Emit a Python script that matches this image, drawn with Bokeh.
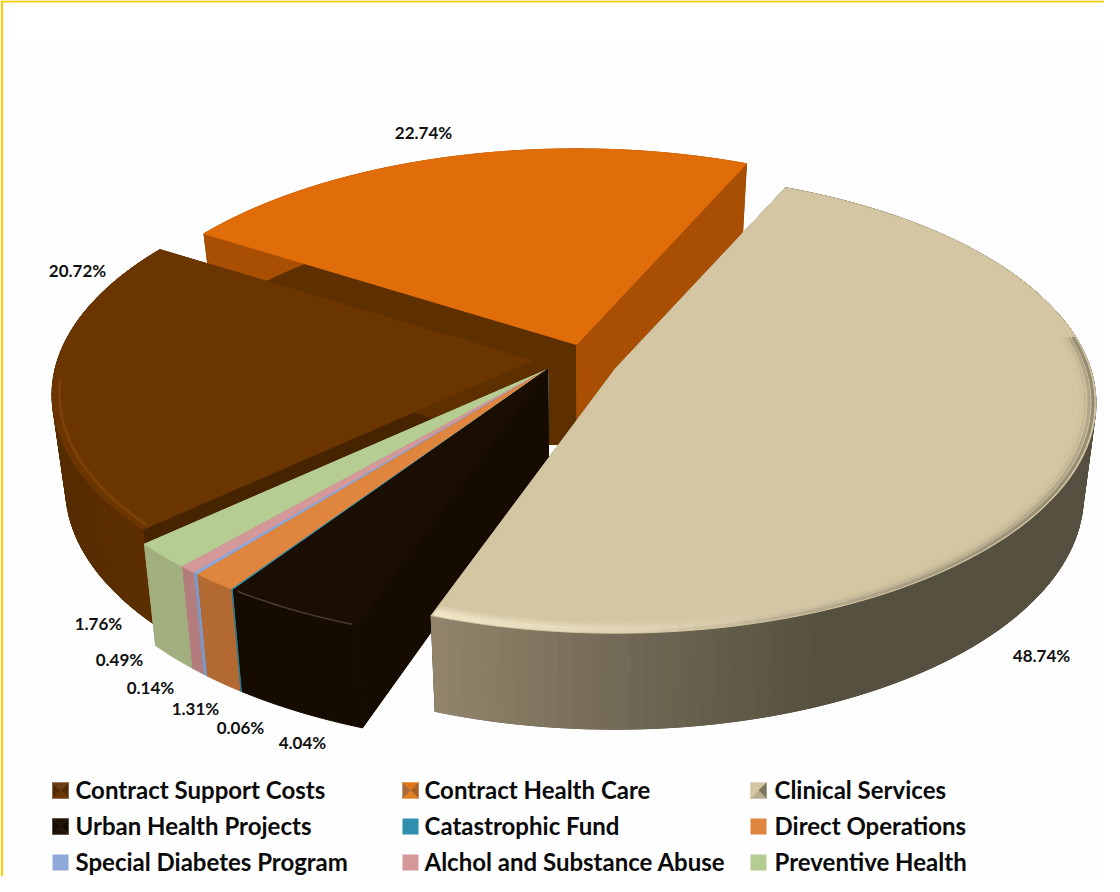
import numpy as np
from bokeh.plotting import figure
from bokeh.models import Range1d, ColumnDataSource
from bokeh.core.properties import value
from bokeh.embed import file_html
from bokeh.resources import INLINE

# ---- data (clockwise from the top edge of Clinical Services) ----
names = ["Clinical Services", "Urban Health Projects", "Catastrophic Fund", "Direct Operations",
         "Special Diabetes Program", "Alchol and Substance Abuse", "Preventive Health",
         "Contract Support Costs", "Contract Health Care"]
shares = [48.74, 4.04, 0.06, 1.31, 0.14, 0.49, 1.76, 20.72, 22.74]
legend_order = ["Contract Support Costs", "Contract Health Care", "Clinical Services",
                "Urban Health Projects", "Catastrophic Fund", "Direct Operations",
                "Special Diabetes Program", "Alchol and Substance Abuse", "Preventive Health"]
label_texts = ["48.74%", "4.04%", "0.06%", "1.31%", "0.14%", "0.49%", "1.76%", "20.72%", "22.74%"]

# ---- styles / layout ----
top_col = dict(zip(names, ["#D4C6A3", "#1A0E02", "#2F8FAC", "#DF853D", "#8EA8D8", "#D49898", "#B5CC92", "#6B3500", "#E06C0A"]))
wall_col = dict(zip(names, ["#6C6450", "#160B00", "#2A7890", "#B26932", "#7F98C8", "#B47D7D", "#A0AF7D", "#5E3000", "#A84F04"]))
group = names[1:7]
apex = {"Clinical Services": (623, 376), "Contract Support Costs": (540, 368), "Contract Health Care": (584, 352)}
apex.update({n: (555, 377) for n in group})
scale = {n: (1.03 if n in group else 1.0) for n in names}
depth = {n: (1.07 if n in group else 1.0) for n in names}
label_xy = dict(zip(names, [(1049, 663), (310, 750), (248, 735), (203, 716), (158, 695), (127, 667), (106, 631), (85, 278), (431, 140)]))
START = 66.0
A, B, PERSP = 475.0, 225.0, 0.15
FONT = "Lato"


def proj(ax, ay, deg, r=1.0):
    t = np.radians(deg)
    X, Y = r * np.cos(t), r * np.sin(t)
    s = 1.0 / (1.0 + PERSP * Y)
    return ax + A * X * s, ay - B * Y * s


def drop(x, y, k=1.0):
    h = np.interp(y, [170, 350, 640], [68, 92, 96]) * k
    return x + (600 - x) * 0.025, y + h


def hex2rgb(c):
    return np.array([int(c[i:i + 2], 16) for i in (1, 3, 5)], float)


def ramp(x, stops):
    xs = [s[0] for s in stops]
    v = [np.interp(x, xs, [hex2rgb(s[1])[k] for s in stops]) for k in range(3)]
    return "#%02x%02x%02x" % tuple(int(round(q)) for q in v)


wall_ramp = {
    "Clinical Services": [(425, "#94876E"), (540, "#82765F"), (640, "#706855"), (780, "#5C5644"), (830, "#565040"), (1100, "#565040")],
    "Contract Support Costs": [(60, "#562C00"), (110, "#5A2E00"), (160, "#5E3000")],
}

spans = {}
a = START
for n, v in zip(names, shares):
    spans[n] = (a, a - v * 3.6)
    a = a - v * 3.6

XS, YS, FC = [], [], []


def add(xs, ys, col):
    XS.append(list(xs)); YS.append(list(ys)); FC.append(col)


def slice_marks(n):
    a0, a1 = spans[n]
    ax, ay = apex[n]
    k = depth[n]
    th = np.linspace(a0, a1, max(3, int(abs(a0 - a1) / 1.5) + 2))
    rx, ry = proj(ax, ay, th, scale[n])
    c0 = {"Contract Health Care": "#5E3000", "Contract Support Costs": "#472400",
          "Urban Health Projects": "#150B00"}.get(n, wall_col[n])
    c1 = {"Contract Health Care": "#A84F04"}.get(n, wall_col[n])
    ab = drop(ax, ay, k)
    if n == "Contract Health Care":
        # the column under the hub, seen between the exploded slices
        add([ax - 32, ax, ax, ax - 32], [ay + 50, ay + 50, ay + 100, ay + 100], "#5E3000")
    for (rpx, rpy, col) in ((rx[0], ry[0], c0), (rx[-1], ry[-1], c1)):
        b = drop(rpx, rpy, k)
        add([ax, rpx, b[0], ab[0]], [ay, rpy, b[1], ab[1]], col)
    bx, by = drop(rx, ry, k)
    add(np.r_[rx, bx[::-1]], np.r_[ry, by[::-1]], wall_col[n])
    if n in wall_ramp:
        for i in range(len(th) - 1):
            mid = (rx[i] + rx[i + 1]) / 2
            add([rx[i], rx[i + 1], bx[i + 1], bx[i]], [ry[i], ry[i + 1], by[i + 1], by[i]], ramp(mid, wall_ramp[n]))
    add(np.r_[ax, rx], np.r_[ay, ry], top_col[n])


p = figure(width=1104, height=876, x_range=Range1d(8, 1112), y_range=Range1d(884, 8),
           toolbar_location=None, output_backend="svg", x_axis_location=None, y_axis_location=None,
           min_border=0, outline_line_color=None)
p.grid.visible = False
p.background_fill_color = "white"
p.border_fill_color = "white"

# page furniture
p.quad(left=[30], right=[1113], top=[48], bottom=[884], fill_color="#FEFEFE", line_color=None)
p.segment(x0=[8], y0=[9], x1=[1112], y1=[9], line_color="#FFCC00", line_width=2)
p.segment(x0=[9.5], y0=[8], x1=[9.5], y1=[884], line_color="#FFCC00", line_width=2)

draw_order = ["Contract Health Care", "Contract Support Costs", "Preventive Health",
              "Alchol and Substance Abuse", "Special Diabetes Program", "Direct Operations",
              "Catastrophic Fund", "Urban Health Projects", "Clinical Services"]
for n in draw_order:
    slice_marks(n)
p.patches(xs="xs", ys="ys", fill_color="fc", line_color="fc", line_width=1.0,
          source=ColumnDataSource(dict(xs=XS, ys=YS, fc=FC)))

# soft bevel on the rim of Clinical Services, light at the front-left, dark at the right
bevel = [
    (0.970, 3, [(427, "#DCCFAE"), (650, "#D8CAA8"), (850, "#D4C6A3"), (1100, "#D0C29F")]),
    (0.978, 3, [(427, "#E6DABA"), (650, "#DCCFAE"), (850, "#D0C29F"), (1100, "#C6B996")]),
    (0.986, 3, [(427, "#EFE4C5"), (650, "#E2D6B6"), (800, "#CABEA0"), (1000, "#B8AD90"), (1100, "#B0A588")]),
    (0.994, 3, [(427, "#F2E8CB"), (650, "#DDD0B0"), (800, "#B9AE90"), (1000, "#9C937A"), (1100, "#948B72")]),
]
a1c = spans["Clinical Services"][1]
ax, ay = apex["Clinical Services"]
for r, w, stops in bevel:
    th = np.linspace(8, a1c + 0.3, 70)
    x, y = proj(ax, ay, th, r)
    cols = [ramp(0.5 * (x[i] + x[i + 1]), stops) for i in range(len(x) - 1)]
    p.multi_line(xs=[[x[i], x[i + 1]] for i in range(len(x) - 1)],
                 ys=[[y[i], y[i + 1]] for i in range(len(x) - 1)],
                 line_color=cols, line_width=w, line_cap="round")

# soft bevel on the rim of Contract Support Costs
ax, ay = apex["Contract Support Costs"]
x, y = proj(ax, ay, np.linspace(185, 222, 25), 0.985)
p.line(x, y, line_color="#7A4208", line_width=3)

# highlight on the rim of Urban Health Projects
a0, a1 = spans["Urban Health Projects"]
ax, ay = apex["Urban Health Projects"]
x, y = proj(ax, ay, np.linspace(a0 - 0.5, a1 + 0.5, 20), scale["Urban Health Projects"])
p.line(x, y, line_color="#4A3A2C", line_width=1.6)

# data labels
for n, t in zip(names, label_texts):
    lx, ly = label_xy[n]
    p.text([lx], [ly], text=[t], text_font=value(FONT), text_font_style="bold", text_font_size="17px",
           text_align="center", text_baseline="middle", text_color="#111111")

# legend
key_x = [60, 410, 758]
text_x = [83, 432, 782]
key_y = [798, 834, 870]
key_shade = {
    "Contract Support Costs": ("#6B3D12", "#542B00", "#6B3500", "#542B00"),
    "Contract Health Care": ("#E07414", "#A85F24", "#E08020", "#A86A38"),
    "Clinical Services": ("#D4C6A3", "#7C745E", "#B8AC8C", "#D4C6A3"),
    "Urban Health Projects": ("#201204", "#160B00", "#201204", "#160B00"),
}
for i, n in enumerate(legend_order):
    kx, ky = key_x[i % 3], key_y[i // 3]
    tx = text_x[i % 3]
    L, R, T, Bt = kx, kx + 16, ky - 8, ky + 8
    if n in key_shade:
        c = key_shade[n]
        mx, my = (L + R) / 2, (T + Bt) / 2
        p.patches(xs=[[L, R, mx], [R, R, mx], [L, R, mx], [L, L, mx]],
                  ys=[[T, T, my], [T, Bt, my], [Bt, Bt, my], [T, Bt, my]],
                  fill_color=list(c), line_color=list(c), line_width=0.4)
    else:
        p.quad(left=[L], right=[R], top=[T], bottom=[Bt], fill_color=top_col[n], line_color=None)
    p.text([tx], [ky - 1], text=[n], text_font=value(FONT), text_font_size="24px", text_font_style="bold",
           text_align="left", text_baseline="middle", text_color="#0A0A0A")

open("out.html", "w").write(file_html(p, INLINE))
